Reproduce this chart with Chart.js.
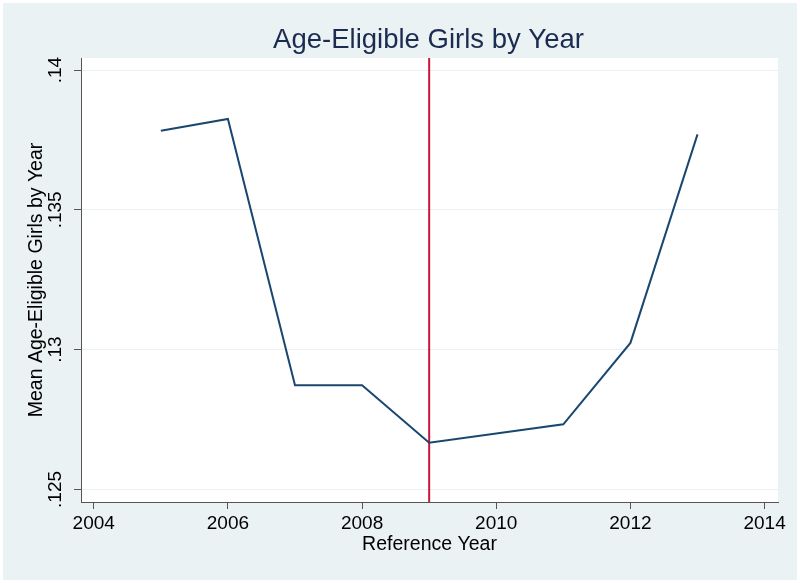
<!DOCTYPE html>
<html>
<head>
<meta charset="utf-8">
<script src="https://cdn.jsdelivr.net/npm/chart.js@4/dist/chart.umd.min.js"></script>
<style>
  body { margin: 0; background: #fff; }
  #wrap { width: 800px; height: 583px; }
</style>
</head>
<body>
<div id="wrap"><canvas id="lineChart" width="800" height="583"></canvas></div>
<script>
// data
var years = [2005, 2006, 2007, 2008, 2009, 2011, 2012, 2013];
var means = [0.13783, 0.13825, 0.12873, 0.12873, 0.12667, 0.12733, 0.13024, 0.13770];
var refYear = [2009];
var xTicks = [2004, 2006, 2008, 2010, 2012, 2014];
var yTicks = [0.125, 0.13, 0.135, 0.14];
var xRange = [2003.81, 2014.2];
var yRange = [0.12455, 0.14043];

var chartTitle = 'Age-Eligible Girls by Year';
var xTitle = 'Reference Year';
var yTitle = 'Mean Age-Eligible Girls by Year';

var bg = '#eaf2f3';
var fontName = '"Liberation Sans", Arial, Helvetica, sans-serif';

var lineData = years.map(function (y, i) { return { x: y, y: means[i] }; });
var refData = [{ x: refYear[0], y: yRange[0] }, { x: refYear[0], y: yRange[1] }];

var stataLook = {
    id: 'stataLook',
    beforeDraw: function (chart) {
        var ctx = chart.ctx, a = chart.chartArea;
        ctx.save();
        ctx.fillStyle = '#fff';
        ctx.fillRect(0, 0, chart.width, chart.height);
        ctx.fillStyle = bg;
        ctx.fillRect(3, 3, chart.width - 6, chart.height - 6);
        ctx.fillStyle = '#fff';
        ctx.fillRect(a.left, a.top, a.right - a.left, a.bottom - a.top);
        ctx.restore();
    },
    afterDraw: function (chart) {
        var ctx = chart.ctx, a = chart.chartArea;
        ctx.save();
        ctx.fillStyle = '#1c2b50';
        ctx.font = '27.5px ' + fontName;
        ctx.textAlign = 'center';
        ctx.textBaseline = 'alphabetic';
        ctx.fillText(chartTitle, (a.left + a.right) / 2 - 1, 48);
        ctx.restore();
    }
};

var ctx = document.getElementById('lineChart').getContext('2d');
new Chart(ctx, {
    type: 'line',
    data: {
        datasets: [
            {
                label: 'mean',
                data: lineData,
                borderColor: '#1a476f',
                borderWidth: 2,
                pointRadius: 0,
                tension: 0,
                fill: false
            },
            {
                label: 'ref',
                data: refData,
                borderColor: '#c8163f',
                borderWidth: 2,
                pointRadius: 0,
                fill: false
            }
        ]
    },
    options: {
        responsive: false,
        animation: false,
        devicePixelRatio: 1,
        layout: { padding: { top: 58, right: 22, left: 0, bottom: 0 } },
        plugins: {
            legend: { display: false },
            title: { display: false },
            tooltip: { enabled: false }
        },
        scales: {
            x: {
                type: 'linear',
                min: xRange[0],
                max: xRange[1],
                afterBuildTicks: function (s) { s.ticks = xTicks.map(function (v) { return { value: v }; }); },
                afterFit: function (s) { s.height = 81; },
                ticks: {
                    color: '#000',
                    font: { family: fontName, size: 19 },
                    padding: 3,
                    maxRotation: 0,
                    callback: function (v) { return String(v); }
                },
                grid: { drawOnChartArea: false, tickLength: 7, tickColor: '#555', lineWidth: 1 },
                border: { color: '#555', width: 1 },
                title: {
                    display: true,
                    text: xTitle,
                    color: '#000',
                    font: { family: fontName, size: 19.5 },
                    padding: { top: 0, bottom: 27 }
                }
            },
            y: {
                type: 'linear',
                min: yRange[0],
                max: yRange[1],
                afterBuildTicks: function (s) { s.ticks = yTicks.map(function (v) { return { value: v }; }); },
                afterFit: function (s) { s.width = 81; },
                ticks: {
                    color: '#000',
                    font: { family: fontName, size: 19 },
                    padding: 0,
                    minRotation: 90,
                    maxRotation: 90,
                    crossAlign: 'center',
                    callback: function (v) { return String(v).replace(/^0/, ''); }
                },
                grid: { color: bg, tickColor: '#555', tickLength: 7, lineWidth: 1 },
                border: { color: '#555', width: 1 },
                title: {
                    display: true,
                    text: yTitle,
                    color: '#000',
                    font: { family: fontName, size: 19.5 },
                    padding: { top: 25, bottom: 0 }
                }
            }
        }
    },
    plugins: [stataLook]
});
</script>
</body>
</html>
